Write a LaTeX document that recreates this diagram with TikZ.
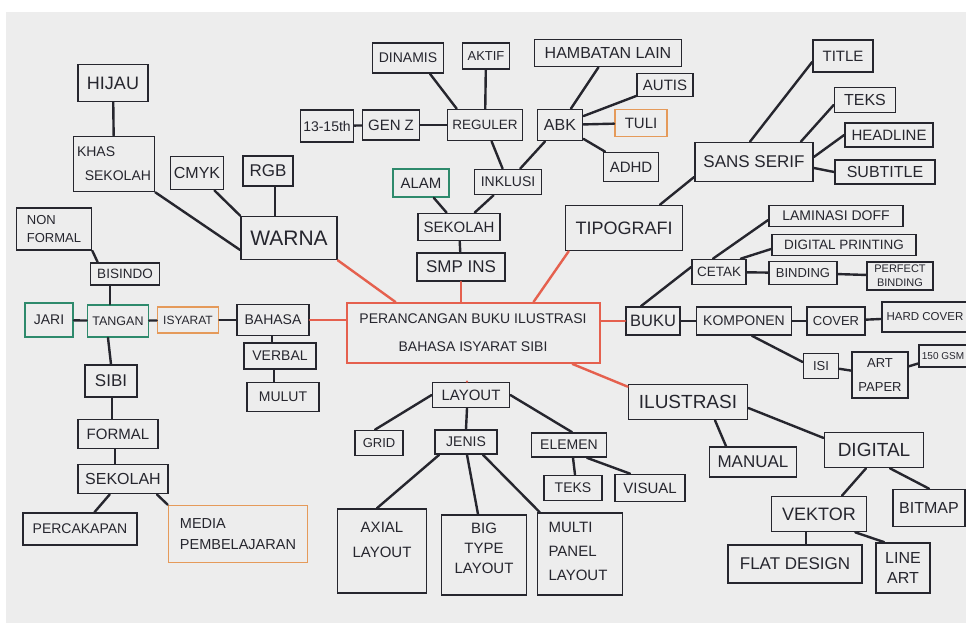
\documentclass[tikz,border=0pt]{standalone}
\usepackage{fontspec}
\setmainfont{Liberation Sans}
\usetikzlibrary{calc}
\definecolor{ink}{HTML}{26262E}
\definecolor{redl}{HTML}{E5604E}
\definecolor{grn}{HTML}{2E8A6C}
\definecolor{org}{HTML}{E59A5A}
\definecolor{paper}{HTML}{EDEDED}
\newcommand\fz[2]{\fontsize{#1}{#2}\selectfont}
\tikzset{
  bx/.style={draw=ink, line width=1.7pt, inner sep=0pt, text=ink, align=center},
  gbx/.style={bx, draw=grn},
  obx/.style={bx, draw=org},
  wh/.style 2 args={minimum width=#1pt, minimum height=#2pt},
  tx/.style={inner sep=0pt, text=ink, align=center},
  ln/.style={draw=ink, line width=2.4pt, line cap=round},
  rln/.style={draw=redl, line width=2.4pt, line cap=round},
}
\begin{document}
\begin{tikzpicture}[x=1pt,y=-1pt]
\useasboundingbox (0,0) rectangle (966,623);
\fill[white] (0,0) rectangle (966,623);
\fill[paper] (6,12) rectangle (966,623);

% ---- left / top-left
\node[bx, wh={70}{37}, font=\fz{18}{22}] (hijau) at (113,83) {HIJAU};
\node[bx, wh={81}{55}, font=\fz{14}{24}, align=left] (khas) at (114,164) {KHAS\\\ \ SEKOLAH};
\node[bx, wh={53}{33}, font=\fz{16}{20}] (cmyk) at (197,173) {CMYK};
\node[bx, wh={50}{30}, font=\fz{17}{20}] (rgb) at (268,171) {RGB};
\node[bx, wh={96}{43}, font=\fz{21}{24}] (warna) at (289,238) {WARNA};
\node[bx, wh={75}{42}, font=\fz{13}{18}, align=left] (nonf) at (54,229) {NON\\FORMAL};
\node[bx, wh={69}{22}, font=\fz{13.5}{16}] (bisindo) at (125,274) {BISINDO};
\node[gbx, wh={48}{34}, font=\fz{14}{16}] (jari) at (49,320) {JARI};
\node[gbx, wh={61}{32}, font=\fz{12.5}{15}] (tangan) at (118,321) {TANGAN};
\node[obx, wh={61}{26}, font=\fz{12}{15}] (isyarat) at (188,320) {ISYARAT};
\node[bx, wh={72}{31}, font=\fz{14}{16}] (bahasa) at (273,320) {BAHASA};
\node[bx, wh={72}{26}, font=\fz{14}{16}] (verbal) at (280,356) {VERBAL};
\node[bx, wh={72}{29}, font=\fz{14}{16}] (mulut) at (283,397) {MULUT};
\node[bx, wh={52}{32}, font=\fz{17}{20}] (sibi) at (111,381) {SIBI};
\node[bx, wh={80}{29}, font=\fz{15}{18}] (formal) at (118,434) {FORMAL};
\node[bx, wh={90}{29}, font=\fz{16}{18}] (skl2) at (123,479) {SEKOLAH};
\node[bx, wh={114}{32}, font=\fz{14}{16}] (perc) at (80,529) {PERCAKAPAN};
\node[obx, wh={139}{57}, font=\fz{14.5}{21}, align=left] (media) at (238,534) {MEDIA\\PEMBELAJARAN};

% ---- top centre
\node[bx, wh={71}{30}, font=\fz{14}{16}] (dinamis) at (408,58) {DINAMIS};
\node[bx, wh={47}{26}, font=\fz{13}{16}] (aktif) at (486,56) {AKTIF};
\node[bx, wh={147}{27}, font=\fz{16}{18}] (hambatan) at (608,53) {HAMBATAN LAIN};
\node[bx, wh={56}{23}, font=\fz{15}{17}] (autis) at (665,85) {AUTIS};
\node[bx, wh={53}{32}, font=\fz{14}{16}] (age) at (327,126) {13-15th};
\node[bx, wh={57}{30}, font=\fz{15}{17}] (genz) at (391,125) {GEN Z};
\node[bx, wh={75}{31}, font=\fz{13.5}{16}] (reguler) at (485,125) {REGULER};
\node[bx, wh={45}{31}, font=\fz{16}{18}] (abk) at (560,125) {ABK};
\node[obx, wh={52}{27}, font=\fz{15}{17}] (tuli) at (641,123) {TULI};
\node[bx, wh={55}{29}, font=\fz{15}{17}] (adhd) at (631,167) {ADHD};
\node[gbx, wh={56}{28}, font=\fz{15}{17}] (alam) at (421,183) {ALAM};
\node[bx, wh={67}{25}, font=\fz{14}{16}] (inklusi) at (508,182) {INKLUSI};
\node[bx, wh={82}{27}, font=\fz{15}{17}] (sekolah) at (459,227) {SEKOLAH};
\node[bx, wh={88}{28}, font=\fz{17}{19}] (smp) at (461,267) {SMP INS};

% ---- top right
\node[bx, wh={117}{45}, font=\fz{18}{20}] (tipo) at (624,228) {TIPOGRAFI};
\node[bx, wh={118}{39}, font=\fz{17}{19}] (sans) at (754,162) {SANS SERIF};
\node[bx, wh={60}{32}, font=\fz{15}{17}] (title) at (843,56) {TITLE};
\node[bx, wh={61}{25}, font=\fz{16}{18}] (teks) at (865,100) {TEKS};
\node[bx, wh={88}{24}, font=\fz{15}{17}] (headline) at (889,135) {HEADLINE};
\node[bx, wh={100}{24}, font=\fz{16}{18}] (subtitle) at (885,172) {SUBTITLE};

% ---- right
\node[bx, wh={134}{21}, font=\fz{14}{16}] (lam) at (836,216) {LAMINASI DOFF};
\node[bx, wh={144}{21}, font=\fz{13.5}{16}] (dp) at (844,245) {DIGITAL PRINTING};
\node[bx, wh={54}{25}, font=\fz{13.5}{16}] (cetak) at (719,272) {CETAK};
\node[bx, wh={68}{23}, font=\fz{13}{15}] (binding) at (803,273) {BINDING};
\node[bx, wh={66}{28}, font=\fz{11}{14}] (perfect) at (900,276) {PERFECT\\BINDING};
\node[bx, wh={54}{28}, font=\fz{16.5}{18}] (buku) at (653,321) {BUKU};
\node[bx, wh={95}{28}, font=\fz{14}{16}] (komp) at (744,321) {KOMPONEN};
\node[bx, wh={58}{28}, font=\fz{13}{15}] (cover) at (836,321) {COVER};
\node[bx, wh={86}{30}, font=\fz{11.5}{14}] (hard) at (925,317) {HARD COVER};
\node[bx, wh={35}{25}, font=\fz{13}{15}] (isi) at (821,366) {ISI};
\node[bx, wh={56}{46}, font=\fz{13}{24}] (art) at (880,375) {ART\\PAPER};
\node[bx, wh={48}{22}, font=\fz{10}{12}] (gsm) at (943,356) {150 GSM};
\node[bx, wh={119}{35}, font=\fz{19}{21}] (ilus) at (688,402) {ILUSTRASI};
\node[bx, wh={87}{30}, font=\fz{17}{19}] (manual) at (753,462) {MANUAL};
\node[bx, wh={99}{35}, font=\fz{19}{21}] (digital) at (874,450) {DIGITAL};
\node[bx, wh={95}{35}, font=\fz{18}{20}] (vektor) at (819,514) {VEKTOR};
\node[bx, wh={72}{37}, font=\fz{16}{18}] (bitmap) at (929,508) {BITMAP};
\node[bx, wh={134}{38}, font=\fz{17}{19}] (flat) at (795,564) {FLAT DESIGN};
\node[bx, wh={54}{50}, font=\fz{16}{20}] (lineart) at (903,568) {LINE\\ART};

% ---- centre bottom
\node[bx, draw=redl, line width=2pt, wh={253}{60}, font=\fz{14}{28}] (main) at (473,333) {PERANCANGAN BUKU ILUSTRASI\\BAHASA ISYARAT SIBI};
\node[bx, wh={77}{25}, font=\fz{15}{17}] (layout) at (471,395) {LAYOUT};
\node[bx, wh={48}{25}, font=\fz{13}{15}] (grid) at (379,443) {GRID};
\node[bx, wh={62}{24}, font=\fz{14}{16}] (jenis) at (466,442) {JENIS};
\node[bx, wh={75}{24}, font=\fz{14}{16}] (elemen) at (569,445) {ELEMEN};
\node[bx, wh={58}{25}, font=\fz{14}{16}] (teks2) at (573,488) {TEKS};
\node[bx, wh={70}{27}, font=\fz{15}{17}] (visual) at (650,488) {VISUAL};
\node[bx, wh={89}{84}] (axial) at (382,551) {};
\node[tx, font=\fz{15}{25}] (axialt) at (382,540) {AXIAL\\LAYOUT};
\node[bx, wh={85}{80}] (big) at (484,555) {};
\node[tx, font=\fz{15}{20}] (bigt) at (484,548) {BIG\\TYPE\\LAYOUT};
\node[bx, wh={85}{82}] (multi) at (580,554) {};
\node[tx, font=\fz{15}{24}, align=left] (multit) at (578,551) {MULTI\\PANEL\\LAYOUT};

% ---- red connectors
\draw[rln] (warna.south east) -- ($(main.north west)+(50,0)$);
\draw[rln] (smp.south) -- (smp.south |- main.north);
\draw[rln] ($(tipo.south west)+(4,0)$) -- ($(main.north east)+(-67,0)$);
\draw[rln] (bahasa.east) -- (main.west |- bahasa.east);
\draw[rln] (main.east |- buku.west) -- (buku.west);
\draw[rln] ($(main.south east)+(-28,0)$) -- ($(ilus.north west)+(0,3)$);
\draw[rln] ($(layout.north)+(-4,0)$) -- ($(layout.north)+(-4,0)$ |- main.south);

% ---- black connectors, left
\draw[ln] (hijau) -- (khas);
\draw[ln] (khas.south east) -- ($(warna.west)+(0,12)$);
\draw[ln] ($(cmyk.south east)+(-10,0)$) -- (warna.north west);
\draw[ln] ($(rgb.south)+(7,0)$) -- ($(warna.north)+(-14,0)$);
\draw[ln] (nonf.south east) -- ($(bisindo.north west)+(8,0)$);
\draw[ln] ($(bisindo.south)+(-15,0)$) -- ($(tangan.north)+(-8,0)$);
\draw[ln] (jari) -- (tangan);
\draw[ln] (tangan) -- (isyarat);
\draw[ln] (isyarat) -- (bahasa);
\draw[ln] ($(bahasa.south)+(-1,0)$) -- ($(verbal.north)+(-8,0)$);
\draw[ln] ($(verbal.south)+(-6,0)$) -- ($(mulut.north)+(-9,0)$);
\draw[ln] ($(tangan.south)+(-10,0)$) -- (sibi.north);
\draw[ln] ($(sibi.south)+(1,0)$) -- ($(formal.north)+(-6,0)$);
\draw[ln] ($(formal.south)+(-3,0)$) -- ($(skl2.north)+(-8,0)$);
\draw[ln] (skl2) -- (perc);
\draw[ln] ($(skl2.south east)+(-12,0)$) -- (media.north west);

% ---- black connectors, top centre
\draw[ln] (smp) -- (sekolah);
\draw[ln] (sekolah) -- (alam);
\draw[ln] (sekolah) -- (inklusi);
\draw[ln] (inklusi) -- (reguler);
\draw[ln] (inklusi) -- (abk);
\draw[ln] ($(reguler.north west)+(10,0)$) -- ($(dinamis.south)+(22,0)$);
\draw[ln] (reguler) -- (aktif);
\draw[ln] (reguler) -- (genz);
\draw[ln] (genz) -- (age);
\draw[ln] (abk) -- (hambatan);
\draw[ln] (abk) -- (autis);
\draw[ln] (abk) -- (tuli);
\draw[ln] (abk) -- (adhd);

% ---- black connectors, right
\draw[ln] ($(tipo.north)+(36,0)$) -- ($(sans.west)+(0,15)$);
\draw[ln] ($(sans.north)+(-4,0)$) -- ($(title.west)+(0,6)$);
\draw[ln] ($(sans.north east)+(-13,0)$) -- ($(teks.west)+(0,5)$);
\draw[ln] ($(sans.east)+(0,-5)$) -- (headline.west);
\draw[ln] ($(sans.east)+(0,6)$) -- (subtitle.west);
\draw[ln] ($(buku.north)+(-12,0)$) -- ($(cetak.west)+(0,-5)$);
\draw[ln] ($(cetak.north)+(-6,0)$) -- ($(lam.west)+(0,4)$);
\draw[ln] ($(cetak.north east)+(-6,0)$) -- ($(dp.west)+(0,4)$);
\draw[ln] (cetak) -- (binding);
\draw[ln] (binding) -- (perfect);
\draw[ln] (buku) -- (komp);
\draw[ln] (komp) -- (cover);
\draw[ln] (cover) -- (hard);
\draw[ln] ($(komp.south)+(8,0)$) -- ($(isi.west)+(0,-4)$);
\draw[ln] (isi) -- (art);
\draw[ln] (art) -- (gsm);
\draw[ln] ($(ilus.south)+(27,0)$) -- ($(manual.north)+(-27,0)$);
\draw[ln] ($(ilus.east)+(0,6)$) -- ($(digital.west)+(0,-12)$);
\draw[ln] ($(digital.south)+(-8,0)$) -- ($(vektor.north)+(23,0)$);
\draw[ln] ($(digital.south)+(16,0)$) -- (bitmap.north);
\draw[ln] ($(vektor.south)+(-13,0)$) -- ($(flat.north)+(11,0)$);
\draw[ln] ($(vektor.south east)+(-12,0)$) -- ($(lineart.north west)+(9,0)$);

% ---- black connectors, layout
\draw[ln] (layout.west) -- ($(grid.north)+(-4,0)$);
\draw[ln] ($(layout.south)+(-4,0)$) -- (jenis.north);
\draw[ln] (layout.east) -- ($(elemen.north)+(3,0)$);
\draw[ln] ($(jenis.south west)+(5,0)$) -- ($(axial.north)+(-5,0)$);
\draw[ln] ($(jenis.south)+(1,0)$) -- ($(big.north)+(-6,0)$);
\draw[ln] ($(jenis.south)+(17,0)$) -- ($(multi.north west)+(3,0)$);
\draw[ln] ($(elemen.south)+(4,0)$) -- ($(teks2.north)+(2,0)$);
\draw[ln] ($(elemen.south)+(18,0)$) -- ($(visual.north)+(-20,0)$);
\end{tikzpicture}
\end{document}
